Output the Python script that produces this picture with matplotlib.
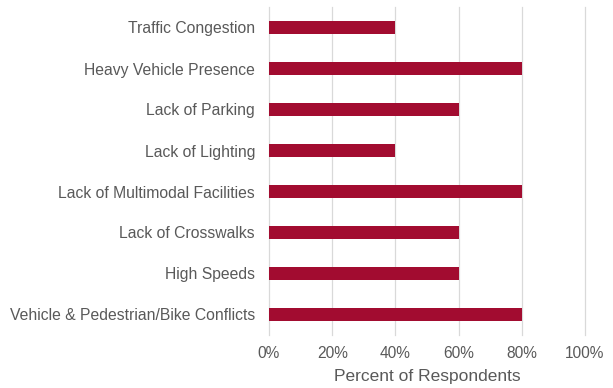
import matplotlib
matplotlib.use("Agg")
import matplotlib.pyplot as plt
from matplotlib.ticker import PercentFormatter

categories = [
    "Traffic Congestion",
    "Heavy Vehicle Presence",
    "Lack of Parking",
    "Lack of Lighting",
    "Lack of Multimodal Facilities",
    "Lack of Crosswalks",
    "High Speeds",
    "Vehicle & Pedestrian/Bike Conflicts",
]
percent = [40, 80, 60, 40, 80, 60, 60, 80]
x_ticks = [0, 20, 40, 60, 80, 100]

plt.rcParams["font.family"] = ["Liberation Sans", "DejaVu Sans"]
text_color = "#595959"

fig = plt.figure(figsize=(6.13, 3.88), dpi=100)
ax = fig.add_axes([269 / 613, 1 - 335 / 388, (585 - 269) / 613, 328 / 388])

y = range(len(categories))
ax.barh(y, percent, height=0.3, color="#A20C30", zorder=3)

ax.set_xlim(0, 100)
ax.set_ylim(len(categories) - 0.5, -0.5)
ax.set_yticks(list(y))
ax.set_yticklabels(categories)
ax.set_xticks(x_ticks)
ax.xaxis.set_major_formatter(PercentFormatter(decimals=0))

ax.grid(axis="x", color="#D9D9D9", linewidth=0.9, zorder=0)
for gl in ax.get_xgridlines():
    gl.set_clip_on(False)
for s in ax.spines.values():
    s.set_visible(False)
ax.tick_params(axis="y", length=0, labelsize=11.3, labelcolor=text_color, pad=10)
ax.tick_params(axis="x", length=0, labelsize=11.2, labelcolor=text_color, pad=8)
ax.set_xlabel("Percent of Respondents", fontsize=12.5, color=text_color, labelpad=6)

fig.savefig("out.png", dpi=100)
